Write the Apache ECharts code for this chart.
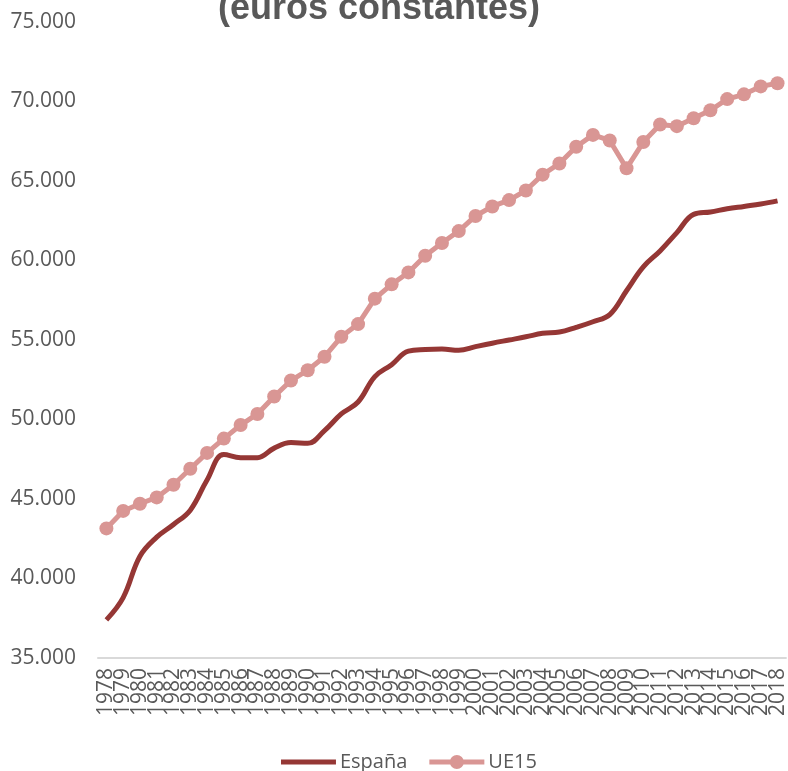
<!DOCTYPE html>
<html>
<head>
<meta charset="utf-8">
<script src="https://cdn.jsdelivr.net/npm/echarts@6/dist/echarts.min.js"></script>
<style>
html,body{margin:0;padding:0;background:#fff;}
#chart{width:788px;height:771px;}
</style>
</head>
<body>
<div id="chart"></div>
<script>
const years = ["1978","1979","1980","1981","1982","1983","1984","1985","1986","1987","1988","1989","1990","1991","1992","1993","1994","1995","1996","1997","1998","1999","2000","2001","2002","2003","2004","2005","2006","2007","2008","2009","2010","2011","2012","2013","2014","2015","2016","2017","2018"];
const espana = [37400,38800,41400,42600,43400,44300,46200,47800,47600,47600,48200,48550,48500,49300,50350,51100,52700,53450,54300,54400,54430,54350,54580,54800,55000,55200,55420,55500,55800,56150,56600,58100,59600,60600,61750,62900,63050,63250,63400,63550,63750];
const ue15 = [43150,44250,44700,45100,45900,46900,47900,48800,49650,50350,51450,52450,53100,53950,55200,56000,57600,58500,59250,60300,61100,61850,62800,63400,63800,64400,65400,66100,67150,67900,67550,65800,67450,68550,68450,68950,69450,70150,70450,70950,71150];
const titleText = "(euros constantes)";
const seriesNames = ["España","UE15"];

const cEs = '#953735', cUe = '#D99694';
const iconLine = 'path://M0,5.5h55v5h-55z M27,1h0.01v0.01z M27,15h0.01v0.01z';
const iconLineDot = 'path://M0,5.5h55v5h-55z M20.5,8a7,7 0 1,1 14,0a7,7 0 1,1 -14,0z';

const chart = echarts.init(document.getElementById('chart'), null, {renderer:'canvas'});
const txt = '#595959';
chart.setOption({
  animation:false,
  backgroundColor:'#ffffff',
  title:{
    text:titleText,
    left:218, top:-9, padding:0,
    textStyle:{fontFamily:'Liberation Sans, Arial, sans-serif', fontWeight:'bold', fontSize:36, color:txt}
  },
  legend:{
    data:[
      {name:seriesNames[0], icon:iconLine, itemStyle:{color:cEs}},
      {name:seriesNames[1], icon:iconLineDot, itemStyle:{color:cUe}}
    ],
    left:276, top:747,
    itemWidth:55, itemHeight:14, itemGap:22,
    textStyle:{fontFamily:'Open Sans', fontSize:20, color:txt, padding:[0,0,0,-1]}
  },
  grid:{left:98, right:0, top:22, bottom:113, containLabel:false},
  xAxis:{
    type:'category', data:years, boundaryGap:true,
    axisTick:{show:false},
    axisLine:{lineStyle:{color:'#d9d9d9', width:2}},
    axisLabel:{rotate:90, interval:0, margin:10, fontFamily:'Open Sans', fontSize:21, color:txt}
  },
  yAxis:{
    type:'value', min:35000, max:75000, interval:5000,
    splitLine:{show:false}, axisLine:{show:false}, axisTick:{show:false},
    axisLabel:{margin:22, fontFamily:'Open Sans', fontSize:21, color:txt,
      formatter:function(v){return (v/1000).toFixed(3);}}
  },
  series:[
    {name:seriesNames[0], type:'line', data:espana, smooth:0.4, symbol:'none', showSymbol:false,
     lineStyle:{color:cEs, width:5}, itemStyle:{color:cEs}, z:3},
    {name:seriesNames[1], type:'line', data:ue15, smooth:false, symbol:'circle', symbolSize:14,
     lineStyle:{color:cUe, width:5}, itemStyle:{color:cUe}, z:2}
  ]
});
</script>
</body>
</html>
